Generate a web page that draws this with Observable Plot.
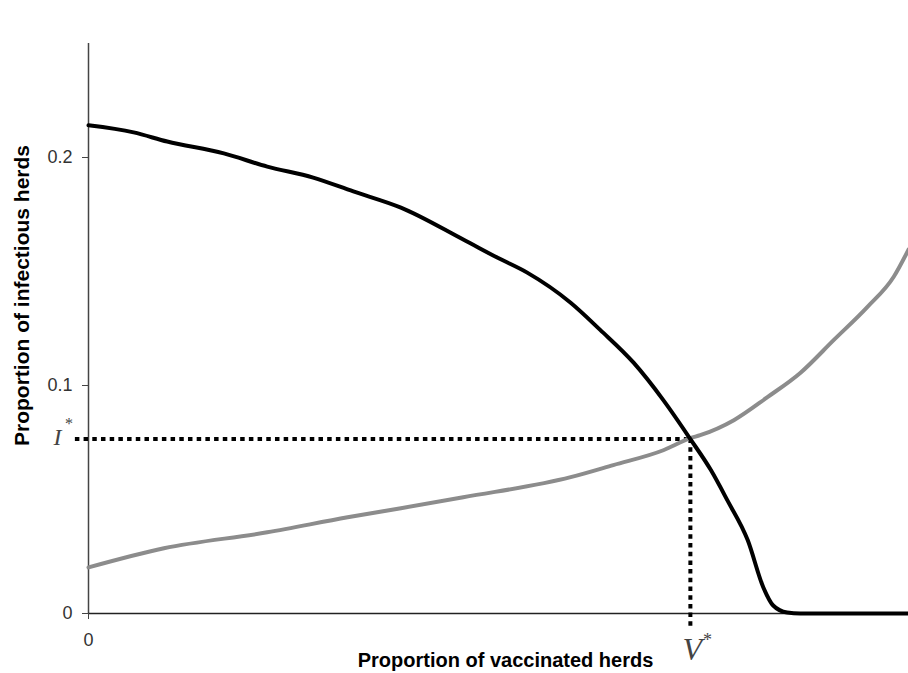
<!DOCTYPE html>
<html>
<head>
<meta charset="utf-8">
<script src="https://cdn.jsdelivr.net/npm/d3@7"></script>
<script src="https://cdn.jsdelivr.net/npm/@observablehq/plot@0.6"></script>
<style>
  html, body { margin: 0; padding: 0; background: #fff; }
  #chart { width: 908px; height: 673px; }
</style>
</head>
<body>
<div id="chart"></div>
<script>
// Black curve: proportion of infectious herds (decreasing with vaccination)
const infectX = [0, 0.055, 0.096, 0.165, 0.218, 0.274, 0.323, 0.381, 0.457, 0.499, 0.535, 0.588, 0.624, 0.665, 0.701, 0.734, 0.759, 0.779, 0.804, 0.823, 0.835, 0.852, 0.868, 1.0];
const infectY = [0.2141, 0.2110, 0.2070, 0.2018, 0.1960, 0.1912, 0.1851, 0.1780, 0.1640, 0.1560, 0.1495, 0.1363, 0.1244, 0.1099, 0.0936, 0.0765, 0.0629, 0.0497, 0.0321, 0.0114, 0.0035, 0.0004, 0, 0];

// Grey curve: rising with vaccination
const greyX = [0, 0.092, 0.218, 0.316, 0.381, 0.457, 0.588, 0.640, 0.701, 0.734, 0.746, 0.787, 0.828, 0.868, 0.909, 0.950, 0.982, 1.0];
const greyY = [0.0202, 0.0286, 0.0356, 0.0422, 0.0462, 0.0510, 0.0598, 0.0651, 0.0716, 0.0769, 0.0782, 0.0848, 0.0949, 0.1055, 0.1200, 0.1345, 0.1477, 0.1596];

// Equilibrium point
const vStar = 0.734;
const iStar = 0.0765;

// Axis ticks
const yTicks = [0, 0.1, 0.2];
const yTickLabels = ["0", "0.1", "0.2"];
const xTicks = [0];
const xTickLabels = ["0"];

const xTitle = "Proportion of vaccinated herds";
const yTitle = "Proportion of infectious herds";

const infect = infectX.map((x, i) => ({x, y: infectY[i]}));
const grey = greyX.map((x, i) => ({x, y: greyY[i]}));

const chart = Plot.plot({
  width: 908,
  height: 673,
  marginLeft: 88,
  marginRight: 0,
  marginTop: 43,
  marginBottom: 60,
  style: {fontFamily: "'Liberation Sans', Arial, sans-serif", background: "#fff", overflow: "visible"},
  x: {type: "linear", domain: [0, 1], axis: null},
  y: {type: "linear", domain: [0, 0.25], axis: null},
  marks: [
    // y axis
    Plot.ruleX([0], {y1: 0, y2: 0.25, stroke: "#444", strokeWidth: 1.5}),
    Plot.axisY(yTicks, {tickFormat: (d, i) => yTickLabels[i], tickSize: 6, tickPadding: 10, fontSize: 18, color: "#333", stroke: "#444", label: null}),
    // x axis
    Plot.ruleY([0], {stroke: "#222", strokeWidth: 1.5}),
    Plot.axisX(xTicks, {tickFormat: (d, i) => xTickLabels[i], tickSize: 6, tickPadding: 14, fontSize: 18, color: "#333", stroke: "#444", label: null}),
    // dotted guide lines
    Plot.ruleY([iStar], {x1: -0.016, x2: vStar, stroke: "#000", strokeWidth: 4, strokeDasharray: "4.5 4.2"}),
    Plot.ruleX([vStar], {y1: iStar, y2: -0.0075, stroke: "#000", strokeWidth: 4, strokeDasharray: "4.5 4.2"}),
    // curves
    Plot.line(grey, {x: "x", y: "y", stroke: "#8c8c8c", strokeWidth: 4, curve: "monotone-x"}),
    Plot.line(infect, {x: "x", y: "y", stroke: "#000", strokeWidth: 4, curve: "monotone-x"}),
    // labels I* and V*
    Plot.text(["I"], {x: 0, y: iStar, dx: -27, dy: -2, textAnchor: "end", fontSize: 24, fontStyle: "italic", fontFamily: "'Liberation Serif', 'Times New Roman', serif", fill: "#444"}),
    Plot.text(["*"], {x: 0, y: iStar, dx: -19.5, dy: -15, fontSize: 16, fontFamily: "'Liberation Serif', serif", fill: "#444"}),
    Plot.text(["V"], {x: vStar, y: 0, dx: 2, dy: 36, fontSize: 32, fontStyle: "italic", fontFamily: "'Liberation Serif', 'Times New Roman', serif", fill: "#444"}),
    Plot.text(["*"], {x: vStar, y: 0, dx: 17, dy: 27, fontSize: 18, fontFamily: "'Liberation Serif', serif", fill: "#444"}),
    // axis titles
    Plot.text([yTitle], {frameAnchor: "left", textAnchor: "middle", dx: -66, dy: -33, rotate: -90, fontSize: 21, fontWeight: "bold", fill: "#000"}),
    Plot.text([xTitle], {frameAnchor: "bottom", dx: 7, dy: 53, fontSize: 20, fontWeight: "bold", fill: "#000"})
  ]
});
document.getElementById("chart").appendChild(chart);
</script>
</body>
</html>
